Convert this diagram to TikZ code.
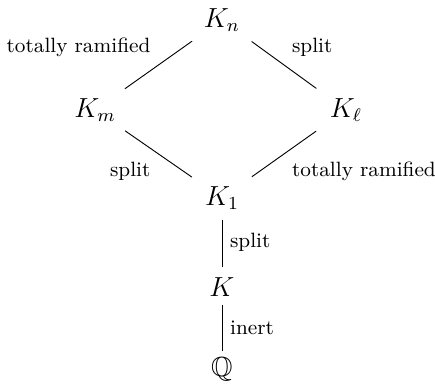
\documentclass[tikz,border=0pt]{standalone}
\usepackage{amsmath,amssymb}
\usetikzlibrary{positioning}

\begin{document}
\begin{tikzpicture}[
    field/.style={font=\large},
    ext/.style={shorten <=0.56cm,shorten >=0.56cm},
    lbl/.style={font=\small}]
  \useasboundingbox (-3.392,-2.842) rectangle (3.255,3.025);

  % fields
  \node[field] (kn) at (0,2.72) {$K_n$};
  \node[field] (km) at (-1.94,1.345) {$K_m$};
  \node[field] (kl) at (1.895,1.345) {$K_\ell$};
  \node[field] (k1) at (0,0) {$K_1$};
  \node[field] (k) at (0,-1.36) {$K$};
  \node[field] (q) at (0,-2.615) {$\mathbb{Q}$};

  % diamond
  \draw[ext] (kn.center) -- node[lbl,above left] {totally ramified} (km.center);
  \draw[ext] (kn.center) -- node[lbl,above right] {split} (kl.center);
  \draw[ext] (km.center) -- node[lbl,below left] {split} (k1.center);
  \draw[ext] (kl.center) -- node[lbl,below right] {totally ramified} (k1.center);

  % tower
  \draw[shorten <=0.33cm,shorten >=0.31cm] (k1.center) -- node[lbl,right] {split} (k.center);
  \draw[shorten <=0.28cm,shorten >=0.27cm] (k.center) -- node[lbl,right] {inert} (q.center);
\end{tikzpicture}
\end{document}
